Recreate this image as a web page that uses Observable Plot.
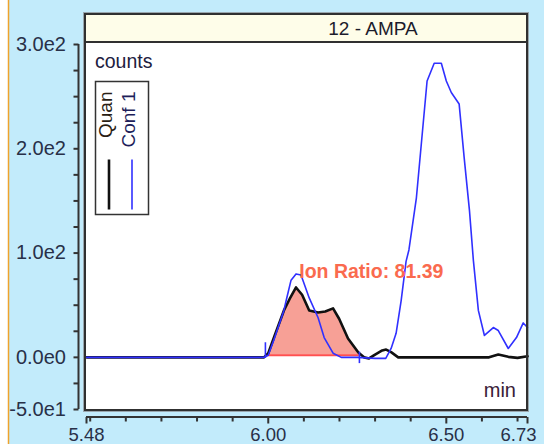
<!DOCTYPE html>
<html><head><meta charset="utf-8">
<script src="https://cdn.jsdelivr.net/npm/d3@7"></script>
<script src="https://cdn.jsdelivr.net/npm/@observablehq/plot@0.6"></script>
<style>
html,body{margin:0;padding:0;background:#fff;}
#chart{width:544px;height:444px;overflow:hidden;}
</style></head><body><div id="chart"></div>
<script>
// ---- data ----
const title = "12 - AMPA";
const seriesNames = ["Quan", "Conf 1"];
const seriesColors = ["#111111", "#3030ff"];
const quanTime   = [5.49,5.60,5.80,5.988,6.000,6.016,6.044,6.060,6.078,6.095,6.115,6.140,6.160,6.182,6.199,6.224,6.253,6.269,6.283,6.300,6.320,6.331,6.345,6.365,6.40,6.50,6.62,6.646,6.674,6.70,6.728];
const quanCounts = [0,0,0,0,4,19,45,56,67,60,45,43,44,47,37,18,4.6,0,-1,2.7,6.6,7.5,5,0,0,0,0,2.7,0.5,-0.5,1];
const confTime   = [5.49,5.60,5.80,5.988,6.000,6.016,6.044,6.050,6.064,6.078,6.092,6.115,6.140,6.157,6.182,6.205,6.25,6.30,6.33,6.345,6.359,6.373,6.387,6.395,6.416,6.446,6.466,6.486,6.500,6.514,6.536,6.550,6.565,6.576,6.590,6.607,6.632,6.646,6.674,6.697,6.716,6.728];
const confCounts = [0,0,0,0,2,17,45,54,74,80,79,57,38,19,4,0,0,-1,-1,8.5,23,54,92,103,153,265,282,282,265,254,243,192,141,93,45,21,28.6,25.7,8.5,19,33,28.6];
const ionRatio = 81.39;
const labelTime = 6.087, labelCounts = 82;
const peakStart = 5.992, peakEnd = 6.256, baselineLevel = 2;
const startMarker = [-1, 14], endMarker = [-6, 5];
const xDomain = [5.4896, 6.728];
const yDomain = [-50, 300];
const xTicks = [5.4896, 6.00, 6.50, 6.728];
const xTickLabels = ["5.48", "6.00", "6.50", "6.73"];
const xMinorTicks = [5.5,5.6,5.7,5.8,5.9,6.1,6.2,6.3,6.4,6.6,6.7];
const yTicks = [-50, 0, 100, 200, 300];
const yTickLabels = ["-5.0e1", "0.0e0", "1.0e2", "2.0e2", "3.0e2"];
const yMinorTicks = [-25,25,50,75,125,150,175,225,250,275];

// ---- tables ----
const quan = quanTime.map((t, i) => ({t, v: quanCounts[i]}));
const conf = confTime.map((t, i) => ({t, v: confCounts[i]}));
const peak = quan.filter(d => d.t >= peakStart && d.t <= peakEnd);
const markers = [{t: peakStart, lo: startMarker[0], hi: startMarker[1]}, {t: peakEnd, lo: endMarker[0], hi: endMarker[1]}];
const xLab = new Map(xTicks.map((d, i) => [d, xTickLabels[i]]));
const yLab = new Map(yTicks.map((d, i) => [d, yTickLabels[i]]));
const xInner = xTicks.slice(0, -1), xLast = xTicks.slice(-1);

const FONT = "'Liberation Sans', Arial, sans-serif";
const TXT = "#283048";

function chartBackground(index, scales, values, dim) {
  const g = d3.create("svg:g");
  const W = dim.width, H = dim.height;
  const L = dim.marginLeft - 1, R = W - dim.marginRight, B = H - dim.marginBottom + 1, T = 14, band = 42;
  g.append("rect").attr("width", W).attr("height", H).attr("fill", "#c2ebfb");
  g.append("rect").attr("width", 8).attr("height", H).attr("fill", "#ffffff");
  g.append("line").attr("x1", 8.5).attr("x2", 8.5).attr("y1", 0).attr("y2", H).attr("stroke", "#f0a32c").attr("stroke-width", 1.5);
  g.append("rect").attr("x", L - 1.5).attr("y", T - 1.5).attr("width", R - L + 3).attr("height", B - T + 3).attr("fill", "none").attr("stroke", "#9aa6ad").attr("stroke-width", 1);
  g.append("rect").attr("x", L).attr("y", T).attr("width", R - L).attr("height", B - T).attr("fill", "#ffffff");
  g.append("rect").attr("x", L).attr("y", T).attr("width", R - L).attr("height", band - T).attr("fill", "#fefde9");
  g.append("text").attr("x", 373).attr("y", 34.5).attr("text-anchor", "middle")
    .attr("font-family", FONT).attr("font-size", 19).attr("fill", "#1c1c2c").text(title);
  return g.node();
}

function chartFrame(index, scales, values, dim) {
  const g = d3.create("svg:g");
  const W = dim.width, H = dim.height;
  const L = dim.marginLeft - 1, R = W - dim.marginRight, B = H - dim.marginBottom + 1, T = 14, band = 42;
  g.append("rect").attr("x", L).attr("y", T).attr("width", R - L).attr("height", B - T)
    .attr("fill", "none").attr("stroke", "#303030").attr("stroke-width", 2);
  g.append("line").attr("x1", L).attr("x2", R).attr("y1", band).attr("y2", band).attr("stroke", "#303030").attr("stroke-width", 2);
  // y axis line
  const ax = dim.marginLeft - 7.5;
  g.append("line").attr("x1", ax).attr("x2", ax).attr("y1", scales.y(yDomain[1])).attr("y2", scales.y(yDomain[0]))
    .attr("stroke", "#333").attr("stroke-width", 2);
  // x axis line
  const ay = H - dim.marginBottom + 8;
  g.append("line").attr("x1", scales.x(xDomain[0])).attr("x2", scales.x(xDomain[1])).attr("y1", ay).attr("y2", ay)
    .attr("stroke", "#333").attr("stroke-width", 2);
  // unit labels
  g.append("text").attr("x", L + 10).attr("y", 68).attr("text-anchor", "start").attr("font-family", FONT).attr("font-size", 19.5).attr("fill", "#202040").text("counts");
  g.append("text").attr("x", R - 11).attr("y", 397).attr("text-anchor", "end").attr("font-family", FONT).attr("font-size", 20).attr("fill", "#3a2038").text("min");
  // legend
  const lx = 95.5, ly = 81.5, lw = 53, lh = 133;
  g.append("rect").attr("x", lx).attr("y", ly).attr("width", lw).attr("height", lh).attr("fill", "#fff").attr("stroke", "#333").attr("stroke-width", 1.5);
  const textColors = ["#2a1e14", "#1e1e5a"];
  const widths = [2.6, 1.6];
  seriesNames.forEach((name, i) => {
    const bx = lx + 16 + i * 23;
    g.append("text").attr("transform", `translate(${bx},${ly + 10}) rotate(-90)`).attr("text-anchor", "end")
      .attr("font-family", FONT).attr("font-size", 19).attr("fill", textColors[i]).text(name);
    g.append("line").attr("x1", bx - 2.5).attr("x2", bx - 2.5).attr("y1", ly + 78).attr("y2", ly + 128)
      .attr("stroke", seriesColors[i]).attr("stroke-width", widths[i]);
  });
  return g.node();
}

const plot = Plot.plot({
  width: 544,
  height: 444,
  marginLeft: 86,
  marginRight: 17,
  marginTop: 44,
  marginBottom: 35,
  style: {fontFamily: FONT, background: "transparent", overflow: "visible"},
  x: {domain: xDomain, axis: null},
  y: {domain: yDomain, axis: null},
  marks: [
    chartBackground,
    Plot.areaY(peak, {x: "t", y1: baselineLevel, y2: d => Math.max(d.v, baselineLevel), fill: "#f7a096", fillOpacity: 1}),
    Plot.ruleY([baselineLevel], {x1: peakStart, x2: peakEnd, stroke: "#ff5050", strokeWidth: 2}),
    Plot.line(quan, {x: "t", y: "v", stroke: seriesColors[0], strokeWidth: 2.6}),
    Plot.line(conf, {x: "t", y: "v", stroke: seriesColors[1], strokeWidth: 1.6}),
    Plot.ruleX(markers, {x: "t", y1: "lo", y2: "hi", stroke: seriesColors[1], strokeWidth: 1.6}),
    Plot.text([{t: labelTime, v: labelCounts}], {x: "t", y: "v", text: () => `Ion Ratio: ${ionRatio.toFixed(2)}`,
      textAnchor: "start", fill: "#fa6a4e", fontSize: 19.5, fontWeight: "bold"}),
    chartFrame,
    Plot.axisY({ticks: yTicks, tickFormat: d => yLab.get(d), tickSize: 5, tickPadding: 8, dx: -7.5,
      stroke: "#333", strokeWidth: 2, fill: TXT, fontSize: 20, label: null}),
    Plot.axisY({ticks: yMinorTicks, tickFormat: () => "", tickSize: 5, dx: -7.5, stroke: "#333", strokeWidth: 2, label: null}),
    Plot.axisX({ticks: xInner, tickFormat: d => xLab.get(d), tickSize: 6.5, tickPadding: 4, dy: 8,
      stroke: "#333", strokeWidth: 2, fill: TXT, fontSize: 18.5, label: null}),
    Plot.axisX({ticks: xLast, tickFormat: () => "", tickSize: 6.5, dy: 8, stroke: "#333", strokeWidth: 2, label: null}),
    Plot.axisX({ticks: xLast, tickFormat: d => xLab.get(d), tickSize: 6.5, tickPadding: 4, dy: 8, dx: -9,
      stroke: "none", fill: TXT, fontSize: 18.5, label: null}),
    Plot.axisX({ticks: xMinorTicks, tickFormat: () => "", tickSize: 4.5, dy: 8, stroke: "#333", strokeWidth: 2, label: null})
  ]
});
document.getElementById("chart").appendChild(plot);
</script>
</body></html>
